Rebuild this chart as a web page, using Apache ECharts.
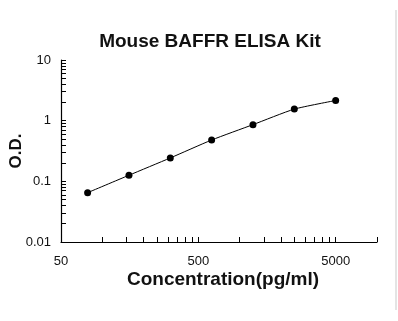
<!DOCTYPE html>
<html>
<head>
<meta charset="utf-8">
<script src="https://cdn.jsdelivr.net/npm/echarts@6/dist/echarts.min.js"></script>
<style>
  html, body { margin: 0; padding: 0; background: #fff; }
  #chart { width: 398px; height: 321px; }
</style>
</head>
<body>
<div id="chart"></div>
<script>
// standard curve points
const concentration = [78.125, 156.25, 312.5, 625, 1250, 2500, 5000];
const od = [0.065, 0.126, 0.243, 0.48, 0.86, 1.55, 2.15];

const xLabels = [50, 500, 5000];
const yLabels = [0.01, 0.1, 1, 10];
const xTicks = [50, 100, 150, 200, 250, 300, 350, 400, 450, 500,
  1000, 1500, 2000, 2500, 3000, 3500, 4000, 4500, 5000, 10000];
const yTicks = [0.01, 0.02, 0.03, 0.04, 0.05, 0.06, 0.07, 0.08, 0.09,
  0.1, 0.2, 0.3, 0.4, 0.5, 0.6, 0.7, 0.8, 0.9,
  1, 2, 3, 4, 5, 6, 7, 8, 9, 10];

const chart = echarts.init(document.getElementById('chart'));

const axisFont = 'Arial, "Liberation Sans", sans-serif';

chart.setOption({
  animation: false,
  title: {
    text: 'Mouse BAFFR ELISA Kit',
    left: 205,
    top: 27,
    textAlign: 'center',
    textStyle: { fontFamily: axisFont, fontSize: 19, fontWeight: 'bold', color: '#111' }
  },
  grid: { left: 61, right: 21, top: 60, bottom: 79, outerBoundsMode: 'none' },
  xAxis: {
    type: 'log',
    logBase: 10,
    min: 50,
    max: 10000,
    name: 'Concentration(pg/ml)',
    nameLocation: 'middle',
    nameGap: 28,
    nameMoveOverlap: false,
    nameTextStyle: { fontFamily: axisFont, fontSize: 19, fontWeight: 'bold', color: '#111', padding: [0, 0, 0, 8] },
    axisLine: { onZero: false, lineStyle: { color: '#000', width: 1.2 } },
    axisTick: { inside: true, length: 5, customValues: xTicks, lineStyle: { color: '#000' } },
    axisLabel: {
      customValues: xLabels, margin: 13, fontFamily: axisFont, fontSize: 13, color: '#111',
      formatter: v => String(v)
    },
    splitLine: { show: false }
  },
  yAxis: {
    type: 'log',
    logBase: 10,
    min: 0.01,
    max: 10,
    name: 'O.D.',
    nameLocation: 'middle',
    nameGap: 30,
    nameMoveOverlap: false,
    nameTextStyle: { fontFamily: axisFont, fontSize: 17, fontWeight: 'bold', color: '#111', padding: [0, 0, 6, 0] },
    axisLine: { show: true, onZero: false, lineStyle: { color: '#000', width: 1.2 } },
    axisTick: { show: true, inside: true, length: 5, customValues: yTicks, lineStyle: { color: '#000' } },
    axisLabel: {
      customValues: yLabels, margin: 10, fontFamily: axisFont, fontSize: 13, color: '#111',
      formatter: v => String(v)
    },
    splitLine: { show: false }
  },
  graphic: [
    { type: 'line', shape: { x1: 396, y1: 10, x2: 396, y2: 310 }, style: { stroke: '#e4e4e4', lineWidth: 2 } }
  ],
  series: [{
    type: 'line',
    data: concentration.map((c, i) => [c, od[i]]),
    smooth: 0.2,
    symbol: 'circle',
    symbolSize: 7,
    lineStyle: { color: '#000', width: 1 },
    itemStyle: { color: '#000' }
  }]
});
</script>
</body>
</html>
